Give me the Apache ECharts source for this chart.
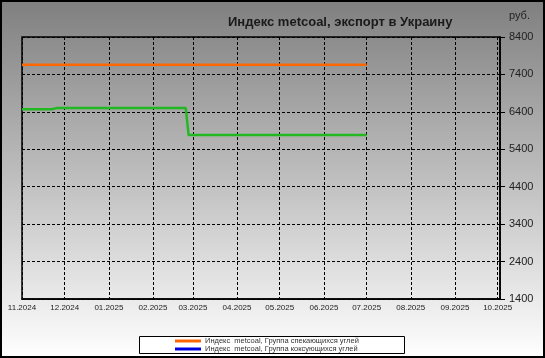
<!DOCTYPE html>
<html>
<head>
<meta charset="utf-8">
<script src="https://cdn.jsdelivr.net/npm/echarts@6/dist/echarts.min.js"></script>
<style>html,body{margin:0;padding:0;}#c{width:545px;height:358px;}</style>
</head>
<body>
<div id="c"></div>
<script>
var titleText = 'Индекс metcoal, экспорт в Украину';
var unitText = 'руб.';
var seriesNames = ['Индекс  metcoal, Группа спекающихся углей', 'Индекс  metcoal, Группа коксующихся углей'];
var orangeDates = ['2024-11-01', '2025-07-01'];
var orangeValues = [7660, 7660];
var greenDates = ['2024-11-01', '2024-11-22', '2024-11-25', '2025-02-24', '2025-02-26', '2025-07-01'];
var greenValues = [6470, 6470, 6500, 6500, 5780, 5780];
var yMin = 1400, yMax = 8400, yStep = 1000;
var xMin = '2024-11-01', xMax = '2025-10-02T16:00:00';

function pairs(d, v) { return d.map(function (x, i) { return [x, v[i]]; }); }

var chart = echarts.init(document.getElementById('c'), null, {renderer: 'canvas'});
chart.setOption({
  animation: false,
  textStyle: {fontFamily: 'Liberation Sans, Arial, sans-serif'},
  graphic: [
    {type: 'rect', z: -10, silent: true, shape: {x: 1, y: 1, width: 543, height: 356},
     style: {fill: {type: 'linear', x: 0, y: 0, x2: 0, y2: 1, colorStops: [{offset: 0, color: '#7f7f7f'}, {offset: 1, color: '#ffffff'}]},
             stroke: '#000', lineWidth: 2}},
    {type: 'rect', z: 1, silent: true, shape: {x: 139.5, y: 336.5, width: 265, height: 17},
     style: {fill: '#fff', stroke: '#000', lineWidth: 1}},
    {type: 'text', z: 5, left: 228, top: 16, style: {text: titleText, font: 'bold 13px Liberation Sans, Arial, sans-serif', fill: '#1a1a1a'}},
    {type: 'text', z: 5, left: 509, top: 10, style: {text: unitText, font: '11px Liberation Sans, Arial, sans-serif', fill: '#222'}}
  ],
  grid: {left: 22, top: 37, width: 478, height: 262, show: true, borderColor: '#000', borderWidth: 1.5, backgroundColor: 'transparent'},
  legend: {
    left: 175, top: 337, orient: 'vertical', itemGap: 0, itemWidth: 26, itemHeight: 3, padding: 0,
    icon: 'rect', z: 6,
    textStyle: {fontSize: 7.5, color: '#333', padding: [0, 0, 0, -1]},
    data: [
      {name: seriesNames[0], itemStyle: {color: '#ff6600'}},
      {name: seriesNames[1], itemStyle: {color: '#0000dd'}}
    ]
  },
  xAxis: {
    type: 'time', min: xMin, max: xMax, splitNumber: 11,
    minInterval: 28 * 86400000, maxInterval: 31 * 86400000,
    axisLine: {show: true, lineStyle: {color: '#000', width: 1.5}},
    axisTick: {show: false},
    axisLabel: {formatter: '{MM}.{yyyy}', fontSize: 8, color: '#222', margin: 5, showMinLabel: true, showMaxLabel: false, hideOverlap: false},
    splitLine: {show: true, lineStyle: {color: '#000', type: [3, 2], width: 1}}
  },
  yAxis: {
    type: 'value', position: 'right', min: yMin, max: yMax, interval: yStep,
    axisLine: {show: true, lineStyle: {color: '#000', width: 1.5}},
    axisTick: {show: true, length: 5, lineStyle: {color: '#000'}},
    axisLabel: {fontSize: 11, color: '#222', margin: 9, formatter: function (v) { return String(v); }},
    splitLine: {show: true, lineStyle: {color: '#000', type: [3, 2], width: 1}}
  },
  series: [
    {name: seriesNames[0], type: 'line', showSymbol: false, data: pairs(orangeDates, orangeValues),
     itemStyle: {color: '#ff6600'}, lineStyle: {color: '#ff6600', width: 2.5}},
    {name: seriesNames[1], type: 'line', showSymbol: false, data: pairs(greenDates, greenValues),
     itemStyle: {color: '#0000dd'}, lineStyle: {color: '#22b822', width: 2.5}}
  ]
});
</script>
</body>
</html>
